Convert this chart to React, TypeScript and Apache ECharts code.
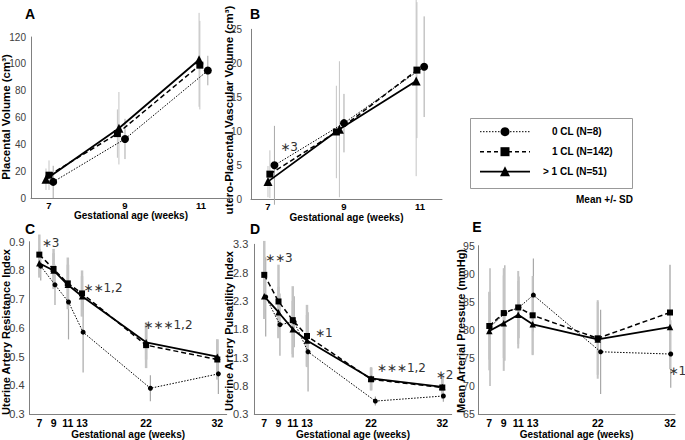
import React, { useEffect, useRef } from 'react';
import * as echarts from 'echarts';

const FONT = '"Liberation Sans", Arial, Helvetica, sans-serif';
const ANN_FONT = '"DejaVu Sans", "Liberation Sans", sans-serif';
const AXIS_COLOR = '#808080';

const groupNames = ['0 CL (N=8)', '1 CL (N=142)', '> 1 CL (N=51)'];
const xTicksAB = [7, 9, 11];
const xTicksCDE = [7, 9, 11, 13, 22, 32];
const xTitle = 'Gestational age (weeks)';

// Panel A – placental volume (cm³): plotted week position, mean, SD per group (0 CL, 1 CL, >1 CL)
const aWeek0 = [7.11, 9.0, 11.18];
const aWeek1 = [7.0, 8.8, 10.97];
const aWeek2 = [6.92, 8.84, 10.95];
const aMean0 = [12, 44, 95];
const aMean1 = [17, 48, 99];
const aMean2 = [14, 52, 103];
const aSd0 = [12, 15, 11];
const aSd1 = [11, 18, 33];
const aSd2 = [8, 27, 35];

// Panel B – utero-placental vascular volume (cm³)
const bWeek0 = [7.17, 9.0, 11.11];
const bWeek1 = [7.05, 8.8, 10.92];
const bWeek2 = [7.0, 8.88, 10.9];
const bMean0 = [5.0, 11.2, 19.5];
const bMean1 = [3.7, 9.9, 19.0];
const bMean2 = [2.6, 10.3, 17.4];
const bSd0 = [5.8, 4.3, 7.4];
const bSd1 = [3.5, 6.8, 10];
const bSd2 = [2.3, 10, 14];

// Panel C – uterine artery resistance index
const cWeek0 = [7.2, 9.2, 11.1, 13.15, 22.6, 32.15];
const cWeek1 = [7, 9, 11, 13, 22, 32];
const cWeek2 = [7, 9, 11, 13, 22, 32];
const cMean0 = [0.815, 0.75, 0.69, 0.585, 0.39, 0.44];
const cMean1 = [0.855, 0.805, 0.755, 0.72, 0.54, 0.49];
const cMean2 = [0.825, 0.8, 0.75, 0.71, 0.55, 0.5];
const cSd0 = [0.05, 0.07, 0.13, 0.14, 0.045, 0.07];
const cSd1 = [0.07, 0.07, 0.09, 0.08, 0.08, 0.07];
const cSd2 = [0.05, 0.06, 0.07, 0.07, 0.06, 0.06];

// Panel D – uterine artery pulsatility index
const dWeek0 = [7.2, 9.2, 11.2, 13.15, 22.6, 32.15];
const dWeek1 = [7, 9, 11, 13, 22, 32];
const dWeek2 = [7, 9, 11, 13, 22, 32];
const dMean0 = [2.37, 1.88, 1.93, 1.4, 0.53, 0.62];
const dMean1 = [2.76, 2.29, 1.96, 1.68, 0.915, 0.77];
const dMean2 = [2.38, 2.1, 1.8, 1.6, 0.93, 0.78];
const dSd0 = [0.7, 0.55, 0.45, 0.7, 0.08, 0.1];
const dSd1 = [0.6, 0.65, 0.6, 0.55, 0.2, 0.2];
const dSd2 = [0.4, 0.45, 0.5, 0.45, 0.2, 0.2];

// Panel E – mean arterial pressure (mmHg)
const eWeek0 = [7.1, 9.15, 11.1, 13.1, 22.4, 32.1];
const eWeek1 = [7, 9, 11, 13, 22, 32];
const eWeek2 = [7, 9, 11, 13, 22, 32];
const eMean0 = [80.5, 83.0, 84.0, 86.2, 76.1, 75.7];
const eMean1 = [80.7, 83.0, 84.0, 82.6, 78.5, 83.1];
const eMean2 = [79.8, 81.2, 82.7, 81.0, 78.3, 80.5];
const eSd0 = [10.5, 8.5, 5.5, 6.5, 7.5, 6];
const eSd1 = [6, 8, 6.5, 7, 6.5, 8.5];
const eSd2 = [7, 8.5, 6, 5.5, 7, 7.5];

// Significance annotations: panel index, x (weeks), y (value), text
const annPanel = [1, 2, 2, 2, 3, 3, 3, 3, 4];
const annWeek = [7.32, 7.33, 13.18, 21.6, 7.1, 14.13, 22.79, 31.08, 31.8];
const annValue = [7.7, 0.895, 0.738, 0.611, 3.06, 1.74, 1.11, 0.995, 72.76];
const annText = ['∗3', '∗3', '∗∗1,2', '∗∗∗1,2', '∗∗3', '∗1', '∗∗∗1,2', '∗2', '∗1'];

const panelLetters = ['A', 'B', 'C', 'D', 'E'];
const yTitles = [
  'Placental Volume (cm³)',
  'utero-Placental Vascular Volume (cm³)',
  'Uterine Artery Resistance Index',
  'Uterine Artery Pulsatility Index',
  'Mean Arterial Pressure (mmHg)',
];

const panelData = [
  { weeks: [aWeek0, aWeek1, aWeek2], means: [aMean0, aMean1, aMean2], sds: [aSd0, aSd1, aSd2], ticks: xTicksAB },
  { weeks: [bWeek0, bWeek1, bWeek2], means: [bMean0, bMean1, bMean2], sds: [bSd0, bSd1, bSd2], ticks: xTicksAB },
  { weeks: [cWeek0, cWeek1, cWeek2], means: [cMean0, cMean1, cMean2], sds: [cSd0, cSd1, cSd2], ticks: xTicksCDE },
  { weeks: [dWeek0, dWeek1, dWeek2], means: [dMean0, dMean1, dMean2], sds: [dSd0, dSd1, dSd2], ticks: xTicksCDE },
  { weeks: [eWeek0, eWeek1, eWeek2], means: [eMean0, eMean1, eMean2], sds: [eSd0, eSd1, eSd2], ticks: xTicksCDE },
];

// Layout (positions / sizes / styles)
const layout = [
  { left: 31, top: 37, width: 200, height: 161, xMin: 6.526, xMax: 11.79, yMin: 0, yMax: 120, yStep: 20, dec: 0,
    yLabelSize: 10, yLabelMargin: 5, xLabelSize: 9.5, xLabelMargin: 2, xNameGap: 9,
    yTitle: [5.5, 117], yTitleSize: 11.5,
    sym: [8, 7, 9], bar: [1, 1, 1], letter: [30, 13.5] },
  { left: 251, top: 29.3, width: 191, height: 170, xMin: 6.553, xMax: 11.58, yMin: 0, yMax: 25, yStep: 5, dec: 0,
    yLabelSize: 10, yLabelMargin: 9, xLabelSize: 9.5, xLabelMargin: 2, xNameGap: 9,
    yTitle: [229, 110], yTitleSize: 11.5,
    sym: [8, 7, 9], bar: [1, 1, 1], letter: [255, 13.5] },
  { left: 29.5, top: 241.7, width: 197.2, height: 173.3, xMin: 5.62, xMax: 33.32, yMin: 0.3, yMax: 0.9, yStep: 0.1, dec: 1,
    yLabelSize: 11, yLabelMargin: 5, xLabelSize: 10.5, xLabelMargin: 3, xNameGap: 12,
    yTitle: [5.5, 332], yTitleSize: 11,
    sym: [5, 6, 6.5], bar: [1.2, 2.5, 2.5], letter: [30, 229] },
  { left: 254.3, top: 244.3, width: 197.4, height: 171, xMin: 5.6, xMax: 33.32, yMin: 0.3, yMax: 3.3, yStep: 0.5, dec: 1,
    yLabelSize: 11, yLabelMargin: 6, xLabelSize: 10.5, xLabelMargin: 3, xNameGap: 13,
    yTitle: [229, 331], yTitleSize: 11,
    sym: [5, 6, 6.5], bar: [1.2, 2.5, 2.5], letter: [255, 229] },
  { left: 478.3, top: 245.7, width: 196.7, height: 168.6, xMin: 5.48, xMax: 32.69, yMin: 65, yMax: 95, yStep: 5, dec: 0,
    yLabelSize: 10.5, yLabelMargin: 3.5, xLabelSize: 10.5, xLabelMargin: 3, xNameGap: 14,
    yTitle: [461, 331], yTitleSize: 11,
    sym: [5, 6, 6.5], bar: [1.2, 2, 2], letter: [477, 227] },
];

const groupSymbol = ['circle', 'rect', 'triangle'];
const groupLineType: any[] = [[1.5, 1.5], [5, 3], 'solid'];
const groupLineWidth = [1, 1.5, 1.8];
const barColors = ['#a8a8a8', '#c4c4c4', '#c4c4c4'];

function buildOption() {
  const grid: any[] = [];
  const xAxis: any[] = [];
  const yAxis: any[] = [];
  const series: any[] = [];
  const graphic: any[] = [];

  layout.forEach((p, i) => {
    const d = panelData[i];
    grid.push({ left: p.left, top: p.top, width: p.width, height: p.height, containLabel: false });
    xAxis.push({
      type: 'value', gridIndex: i, min: p.xMin, max: p.xMax,
      axisLine: { show: true, onZero: false, lineStyle: { color: AXIS_COLOR, width: 1 } },
      axisTick: { show: false }, splitLine: { show: false },
      axisLabel: {
        customValues: d.ticks, margin: p.xLabelMargin, color: '#000', fontWeight: 'bold',
        fontSize: p.xLabelSize, fontFamily: FONT, formatter: (v: number) => String(Math.round(v)),
      },
      name: xTitle, nameLocation: 'middle', nameGap: p.xNameGap,
      nameTextStyle: { fontWeight: 'bold', fontSize: 10, color: '#000', fontFamily: FONT },
    });
    yAxis.push({
      type: 'value', gridIndex: i, min: p.yMin, max: p.yMax, interval: p.yStep,
      axisLine: { show: true, onZero: false, lineStyle: { color: AXIS_COLOR, width: 1 } },
      axisTick: { show: false }, splitLine: { show: false },
      axisLabel: {
        margin: p.yLabelMargin, color: '#404040', fontSize: p.yLabelSize, fontFamily: FONT,
        formatter: (v: number) => v.toFixed(p.dec),
      },
    });

    for (let k = 0; k < 3; k++) {
      const wk = d.weeks[k];
      const mn = d.means[k];
      const sd = d.sds[k];
      const barW = p.bar[k];
      const barC = barColors[k];
      series.push({
        type: 'custom', xAxisIndex: i, yAxisIndex: i, silent: true, z: 2, clip: false,
        data: wk.map((w, j) => [w, mn[j] - sd[j], mn[j] + sd[j]]),
        encode: { x: 0, y: [1, 2] },
        renderItem: (_params: any, api: any) => {
          const x = api.value(0);
          const p1 = api.coord([x, api.value(1)]);
          const p2 = api.coord([x, api.value(2)]);
          return {
            type: 'line',
            shape: { x1: p1[0], y1: p1[1], x2: p2[0], y2: p2[1] },
            style: { stroke: barC, lineWidth: barW },
          };
        },
      });
    }
    for (let k = 0; k < 3; k++) {
      const wk = d.weeks[k];
      const mn = d.means[k];
      series.push({
        type: 'line', name: groupNames[k], xAxisIndex: i, yAxisIndex: i, silent: true, z: 3,
        data: wk.map((w, j) => [w, mn[j]]),
        symbol: groupSymbol[k], symbolSize: p.sym[k], showSymbol: true,
        itemStyle: { color: '#000' },
        lineStyle: { color: '#000', width: groupLineWidth[k], type: groupLineType[k] },
      });
    }

    const annIdx = annPanel.map((pp, j) => (pp === i ? j : -1)).filter((j) => j >= 0);
    if (annIdx.length) {
      series.push({
        type: 'custom', xAxisIndex: i, yAxisIndex: i, silent: true, z: 4, clip: false,
        data: annIdx.map((j) => [annWeek[j], annValue[j], j]),
        encode: { x: 0, y: 1 },
        renderItem: (_params: any, api: any) => {
          const pt = api.coord([api.value(0), api.value(1)]);
          const j = api.value(2);
          return {
            type: 'text', x: pt[0], y: pt[1],
            style: { text: annText[j], fill: '#333333', font: `12px ${ANN_FONT}`, align: 'left', verticalAlign: 'middle' },
          };
        },
      });
    }

    graphic.push({
      type: 'text', x: p.letter[0], y: p.letter[1],
      style: { text: panelLetters[i], fill: '#000', font: `bold 14px ${FONT}`, align: 'center', verticalAlign: 'middle' },
    });
    graphic.push({
      type: 'text', x: p.yTitle[0], y: p.yTitle[1], rotation: Math.PI / 2,
      style: { text: yTitles[i], fill: '#000', font: `bold ${p.yTitleSize}px ${FONT}`, align: 'center', verticalAlign: 'middle' },
    });
  });

  // Legend box
  const legendRows = [131.7, 151.7, 171.7];
  const legendTextX = [552, 552, 543];
  const lineStyles: any[] = [[1.5, 1.5], [4, 3], null];
  graphic.push({
    type: 'rect', shape: { x: 470.5, y: 118.5, width: 162, height: 70 },
    style: { fill: '#fff', stroke: '#999', lineWidth: 1 },
  });
  legendRows.forEach((y, k) => {
    graphic.push({
      type: 'line', shape: { x1: 480, y1: y, x2: 530, y2: y },
      style: { stroke: '#000', lineWidth: groupLineWidth[k], lineDash: lineStyles[k] },
    });
    if (k === 0) {
      graphic.push({ type: 'circle', shape: { cx: 505, cy: y, r: 4.5 }, style: { fill: '#000' } });
    } else if (k === 1) {
      graphic.push({ type: 'rect', shape: { x: 500.5, y: y - 4.5, width: 9, height: 9 }, style: { fill: '#000' } });
    } else {
      graphic.push({ type: 'polygon', shape: { points: [[505, y - 5.5], [500, y + 4.5], [510, y + 4.5]] }, style: { fill: '#000' } });
    }
    graphic.push({
      type: 'text', x: legendTextX[k], y,
      style: { text: groupNames[k], fill: '#000', font: `bold 10px ${FONT}`, align: 'left', verticalAlign: 'middle' },
    });
  });
  graphic.push({
    type: 'text', x: 633, y: 199,
    style: { text: 'Mean +/- SD', fill: '#000', font: `bold 10px ${FONT}`, align: 'right', verticalAlign: 'middle' },
  });

  return {
    animation: false,
    backgroundColor: '#fff',
    textStyle: { fontFamily: FONT },
    grid, xAxis, yAxis, series, graphic,
  };
}

export default function App() {
  const ref = useRef<HTMLDivElement>(null);
  useEffect(() => {
    if (!ref.current) return;
    const chart = echarts.init(ref.current, null, { renderer: 'svg' });
    chart.setOption(buildOption() as any);
    return () => chart.dispose();
  }, []);
  return (
    <div
      ref={ref}
      style={{ position: 'absolute', left: 0, top: 0, width: 685, height: 440, background: '#fff' }}
    />
  );
}
